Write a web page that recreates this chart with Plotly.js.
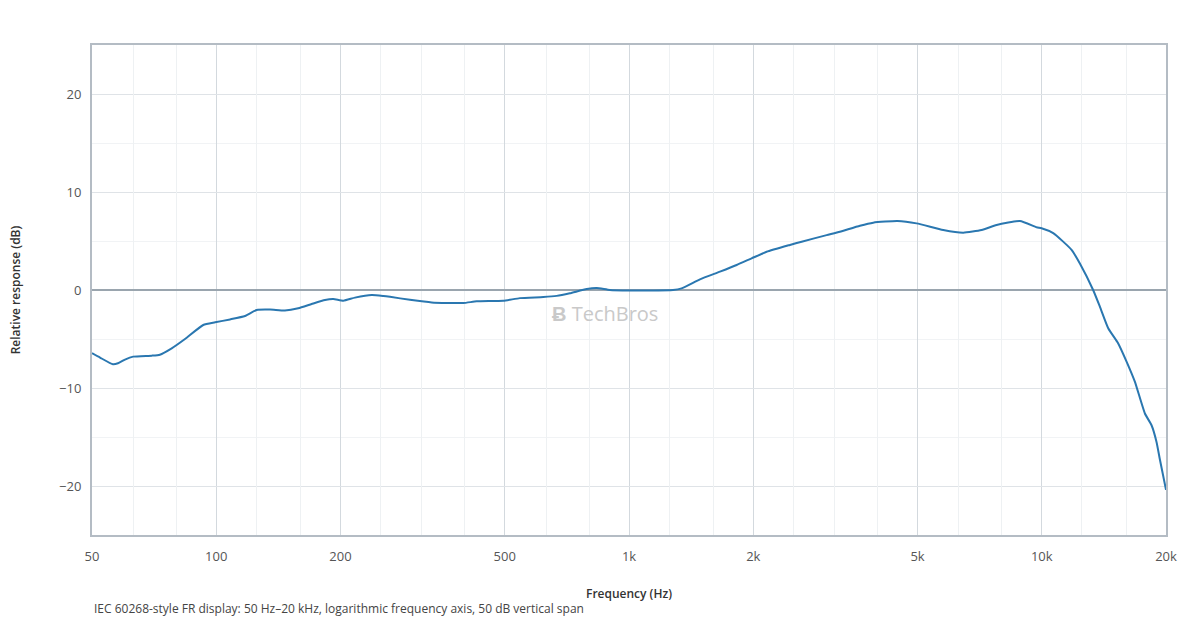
<!DOCTYPE html>
<html>
<head>
<meta charset="utf-8">
<script src="https://cdn.plot.ly/plotly-3.0.1.min.js"></script>
<style>
  html, body { margin: 0; padding: 0; background: #fff; }
  #fr { width: 1200px; height: 620px; }
</style>
</head>
<body>
<div id="fr"></div>
<script>
// frequency response (Hz, dB)
const freqHz = [
  50, 52.3, 56.2, 57.8, 60.1, 62.9, 69.8, 73, 78, 84, 93, 99.4, 108, 117.4,
  125.3, 135, 146.7, 158, 170.3, 183.4, 192.1, 203.2, 216.8, 238.1, 254, 263.6,
  294.6, 332.6, 396.7, 427.5, 496, 544, 620, 668, 719, 790, 835, 899, 1005,
  1104, 1278, 1341, 1486, 1661, 1823, 1982, 2155, 2454, 2620, 3012, 3243, 3627,
  3906, 4470, 4975, 5772, 6453, 7151, 7773, 8853, 9717, 9990, 10660, 11810,
  12370, 13320, 13830, 14490, 15320, 16050, 16810, 17780, 18450, 18970, 19330,
  20000
];
const responseDb = [
  -6.45, -6.9, -7.58, -7.48, -7.1, -6.8, -6.7, -6.6, -5.95, -5.0, -3.57, -3.3,
  -3.0, -2.65, -2.04, -2.0, -2.1, -1.87, -1.43, -1.02, -0.92, -1.09, -0.78,
  -0.51, -0.61, -0.7, -1.0, -1.27, -1.33, -1.16, -1.1, -0.83, -0.72, -0.6,
  -0.33, 0.1, 0.2, 0.0, -0.05, -0.05, 0.0, 0.17, 1.09, 1.87, 2.55, 3.23, 3.9,
  4.6, 4.93, 5.6, 5.95, 6.56, 6.87, 7.04, 6.8, 6.12, 5.85, 6.12, 6.63, 7.04,
  6.4, 6.3, 5.8, 4.1, 2.7, 0.0, -1.7, -3.9, -5.45, -7.3, -9.35, -12.6, -13.8,
  -15.5, -17.3, -20.4
];

const majorFreqs = [50, 100, 200, 500, 1000, 2000, 5000, 10000, 20000];
const majorLabels = ['50', '100', '200', '500', '1k', '2k', '5k', '10k', '20k'];
// third-octave centres between the labelled ticks
const minorFreqs = [63, 80, 125, 160, 250, 315, 400, 630, 800, 1250, 1600, 2500,
  3150, 4000, 6300, 8000, 12500, 16000];
const dbTicks = [-20, -10, 0, 10, 20];

const xRange = [Math.log10(50), Math.log10(20000)];

const trace = {
  x: freqHz,
  y: responseDb,
  type: 'scatter',
  mode: 'lines',
  line: { color: '#2a77b0', width: 2, shape: 'spline', smoothing: 0.5 },
  hoverinfo: 'x+y',
};

// invisible copy on the overlay axis so it carries the minor grid
const gridTrace = {
  x: freqHz,
  y: responseDb,
  xaxis: 'x2',
  type: 'scatter',
  mode: 'lines',
  line: { width: 0 },
  opacity: 0,
  hoverinfo: 'skip',
};

const layout = {
  width: 1200,
  height: 620,
  margin: { l: 92, r: 34, t: 45, b: 85 },
  paper_bgcolor: '#ffffff',
  plot_bgcolor: '#ffffff',
  font: { family: 'Open Sans, sans-serif', size: 13, color: '#555' },
  showlegend: false,
  xaxis: {
    type: 'log',
    range: xRange,
    tickmode: 'array',
    tickvals: majorFreqs,
    ticktext: majorLabels,
    ticks: '',
    ticklabelstandoff: 8,
    showgrid: true,
    gridcolor: '#d3d9de',
    gridwidth: 1,
    showline: true,
    linecolor: '#b4bcc4',
    linewidth: 2,
    mirror: true,
    zeroline: false,
    title: { text: 'Frequency (Hz)', standoff: 26, font: { size: 12, color: '#333', weight: 600 } },
  },
  xaxis2: {
    type: 'log',
    overlaying: 'x',
    range: xRange,
    tickmode: 'array',
    tickvals: minorFreqs,
    showticklabels: false,
    ticks: '',
    showgrid: true,
    gridcolor: '#eef1f3',
    gridwidth: 1,
    showline: false,
    zeroline: false,
  },
  yaxis: {
    range: [-25, 25],
    tickmode: 'array',
    tickvals: dbTicks,
    ticks: '',
    ticklabelstandoff: 6,
    showgrid: true,
    gridcolor: '#dfe3e7',
    gridwidth: 1,
    minor: { dtick: 5, showgrid: true, gridcolor: '#f1f3f5', gridwidth: 1, ticks: '' },
    showline: true,
    linecolor: '#b4bcc4',
    linewidth: 2,
    mirror: true,
    zeroline: true,
    zerolinecolor: '#9aa5ae',
    zerolinewidth: 2,
    title: { text: 'Relative response (dB)', standoff: 36, font: { size: 12, color: '#333', weight: 600 } },
  },
  annotations: [
    {
      // watermark
      xref: 'paper', yref: 'paper', x: 0.478, y: 0.453,
      text: '<b>Ƀ</b> TechBros', showarrow: false,
      font: { size: 20, color: '#c9c9c9', family: 'Open Sans, sans-serif' },
    },
    {
      xref: 'paper', yref: 'paper', x: 0, y: -0.151,
      xanchor: 'left', yanchor: 'middle',
      text: 'IEC 60268-style FR display: 50 Hz\u201320 kHz, logarithmic frequency axis, 50 dB vertical span',
      showarrow: false,
      font: { size: 12, color: '#444' },
    },
  ],
};

Plotly.newPlot('fr', [gridTrace, trace], layout, { displayModeBar: false, staticPlot: true });
</script>
</body>
</html>
